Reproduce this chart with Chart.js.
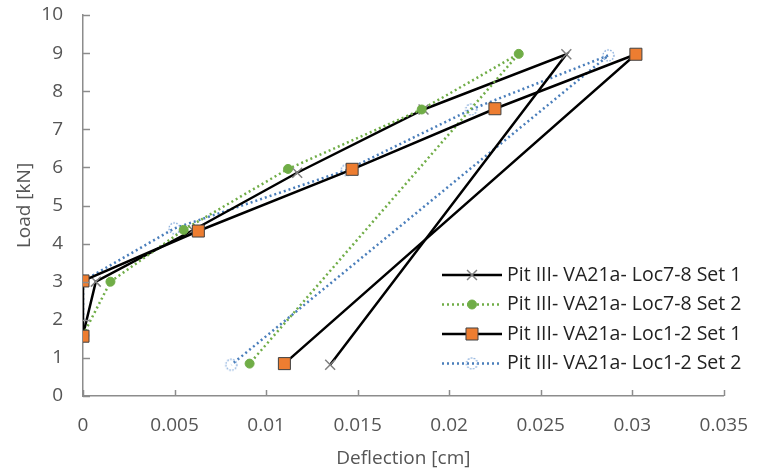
<!DOCTYPE html>
<html>
<head>
<meta charset="utf-8">
<script src="https://cdn.jsdelivr.net/npm/chart.js@4/dist/chart.umd.min.js"></script>
<style>
  html, body { margin: 0; padding: 0; background: #fff; }
  #wrap { width: 766px; height: 471px; position: relative; }
</style>
</head>
<body>
<div id="wrap"><canvas id="loadChart"></canvas></div>
<script>
// Load steps and measured deflections for each pit location / set
const seriesNames = [
  'Pit III- VA21a- Loc7-8 Set 1',
  'Pit III- VA21a- Loc7-8 Set 2',
  'Pit III- VA21a- Loc1-2 Set 1',
  'Pit III- VA21a- Loc1-2 Set 2'
];

const loc78Set1Defl = [0, 0.0007, 0.0060, 0.0117, 0.0186, 0.0264, 0.0135];
const loc78Set1Load = [1.6, 3.0, 4.35, 5.86, 7.52, 8.97, 0.82];

const loc78Set2Defl = [0, 0.0015, 0.0055, 0.0112, 0.0185, 0.0238, 0.0091];
const loc78Set2Load = [1.6, 3.0, 4.36, 5.96, 7.52, 8.98, 0.85];

const loc12Set1Defl = [0, 0, 0.0063, 0.0147, 0.0225, 0.0302, 0.0110];
const loc12Set1Load = [1.57, 3.02, 4.33, 5.95, 7.54, 8.97, 0.85];

const loc12Set2Defl = [0, 0, 0.0050, 0.0144, 0.0212, 0.0287, 0.0081];
const loc12Set2Load = [1.6, 3.02, 4.4, 5.93, 7.52, 8.94, 0.82];

const xTickStep = 0.005;
const xMax = 0.035;
const yTickStep = 1;
const yMax = 10;

function toPoints(xs, ys) {
  return xs.map((x, i) => ({ x: x, y: ys[i] }));
}

const axisColor = '#8c8c8c';
const labelColor = '#555555';
const fontFamily = '"Open Sans", "Liberation Sans", sans-serif';

// hollow circle with a dotted outline, used as a point style
function dottedCircle(r, color) {
  const c = document.createElement('canvas');
  c.width = c.height = 2 * r + 4;
  const g = c.getContext('2d');
  g.strokeStyle = color;
  g.lineWidth = 1.3;
  g.setLineDash([1.5, 1.5]);
  g.beginPath();
  g.arc(r + 2, r + 2, r, 0, Math.PI * 2);
  g.stroke();
  return c;
}

/**
 * Short tick marks drawn on the inside of both axes,
 * plus the legend box in the lower right of the plot.
 */
const insideTicksAndLegend = {
  id: 'insideTicksAndLegend',
  afterDraw(chart) {
    const ctx = chart.ctx;
    const xs = chart.scales.x;
    const ys = chart.scales.y;
    ctx.save();
    ctx.strokeStyle = axisColor;
    ctx.lineWidth = 1.5;
    xs.ticks.forEach(t => {
      const px = Math.round(xs.getPixelForValue(t.value)) + 0.5;
      ctx.beginPath();
      ctx.moveTo(px, xs.top);
      ctx.lineTo(px, xs.top - 6);
      ctx.stroke();
    });
    ys.ticks.forEach(t => {
      const py = Math.round(ys.getPixelForValue(t.value)) + 0.5;
      ctx.beginPath();
      ctx.moveTo(ys.right, py);
      ctx.lineTo(ys.right + 7, py);
      ctx.stroke();
    });

    // legend
    const lx = 442, ly = 275, rowH = 29.5, sampleW = 60;
    ctx.font = '19.5px ' + fontFamily;
    ctx.textBaseline = 'middle';
    chart.data.datasets.forEach((ds, i) => {
      const y = ly + i * rowH;
      ctx.save();
      ctx.strokeStyle = ds.borderColor;
      ctx.lineWidth = ds.borderWidth;
      ctx.setLineDash(ds.borderDash || []);
      ctx.beginPath();
      ctx.moveTo(lx, y);
      ctx.lineTo(lx + sampleW, y);
      ctx.stroke();
      ctx.restore();
      ctx.save();
      ctx.fillStyle = ds.pointBackgroundColor;
      ctx.strokeStyle = ds.pointBorderColor;
      ctx.lineWidth = ds.pointBorderWidth;
      Chart.helpers.drawPoint(ctx, {
        pointStyle: ds.pointStyle,
        radius: ds.pointRadius,
        rotation: 0,
        borderWidth: ds.pointBorderWidth
      }, lx + sampleW / 2, y);
      ctx.restore();
      ctx.fillStyle = '#222';
      ctx.fillText(ds.label, lx + sampleW + 5, y);
    });
    ctx.restore();
  }
};

const datasets = [
  {
    label: seriesNames[0],
    data: toPoints(loc78Set1Defl, loc78Set1Load),
    borderColor: '#000000',
    borderWidth: 2.5,
    pointStyle: 'crossRot',
    pointRadius: 7,
    pointBorderWidth: 1.5,
    pointBackgroundColor: '#7f7f7f',
    pointBorderColor: '#7f7f7f',
    order: 2
  },
  {
    label: seriesNames[1],
    data: toPoints(loc78Set2Defl, loc78Set2Load),
    borderColor: '#70ad47',
    borderWidth: 2.5,
    borderDash: [2, 3],
    pointStyle: 'circle',
    pointRadius: 4.5,
    pointBorderWidth: 1,
    pointBackgroundColor: '#70ad47',
    pointBorderColor: '#70ad47',
    order: 1
  },
  {
    label: seriesNames[2],
    data: toPoints(loc12Set1Defl, loc12Set1Load),
    borderColor: '#000000',
    borderWidth: 2.5,
    pointStyle: 'rect',
    pointRadius: 8.5,
    pointBorderWidth: 1,
    pointBackgroundColor: '#ed7d31',
    pointBorderColor: '#404040',
    order: 0
  },
  {
    label: seriesNames[3],
    data: toPoints(loc12Set2Defl, loc12Set2Load),
    borderColor: '#4a7ebb',
    borderWidth: 2.5,
    borderDash: [2, 3],
    pointStyle: dottedCircle(5.5, '#7ea6d8'),
    pointRadius: 6,
    pointBorderWidth: 1,
    pointBackgroundColor: 'rgba(255,255,255,0)',
    pointBorderColor: '#7ea6d8',
    order: 3
  }
];

const ctx = document.getElementById('loadChart').getContext('2d');
new Chart(ctx, {
  type: 'scatter',
  data: { datasets: datasets },
  options: {
    responsive: true,
    maintainAspectRatio: false,
    animation: false,
    showLine: true,
    layout: { padding: { top: 15, right: 27, left: 9, bottom: 0 } },
    elements: { line: { tension: 0, fill: false } },
    plugins: {
      legend: { display: false },
      tooltip: { enabled: false }
    },
    scales: {
      x: {
        type: 'linear',
        min: 0,
        max: xMax,
        afterFit: s => { s.height = 75; },
        grid: { display: false, drawTicks: false },
        border: { display: true, color: axisColor, width: 1.5 },
        ticks: {
          stepSize: xTickStep,
          padding: 18,
          maxRotation: 0,
          color: labelColor,
          font: { family: fontFamily, size: 19 },
          callback: v => String(Number(v.toFixed(3)))
        },
        title: {
          display: true,
          text: 'Deflection [cm]',
          color: labelColor,
          font: { family: fontFamily, size: 19 },
          padding: { top: 4, bottom: 1 }
        }
      },
      y: {
        type: 'linear',
        min: 0,
        max: yMax,
        afterFit: s => { s.width = 74; },
        // ticks are drawn by the plugin; tickLength only spaces the labels
        grid: { display: false, drawTicks: true, tickLength: 18 },
        border: { display: true, color: axisColor, width: 1.5 },
        ticks: {
          stepSize: yTickStep,
          padding: 2,
          color: labelColor,
          font: { family: fontFamily, size: 19 }
        },
        title: {
          display: true,
          text: 'Load [kN]',
          color: labelColor,
          font: { family: fontFamily, size: 19 }
        }
      }
    }
  },
  plugins: [insideTicksAndLegend]
});
</script>
</body>
</html>
